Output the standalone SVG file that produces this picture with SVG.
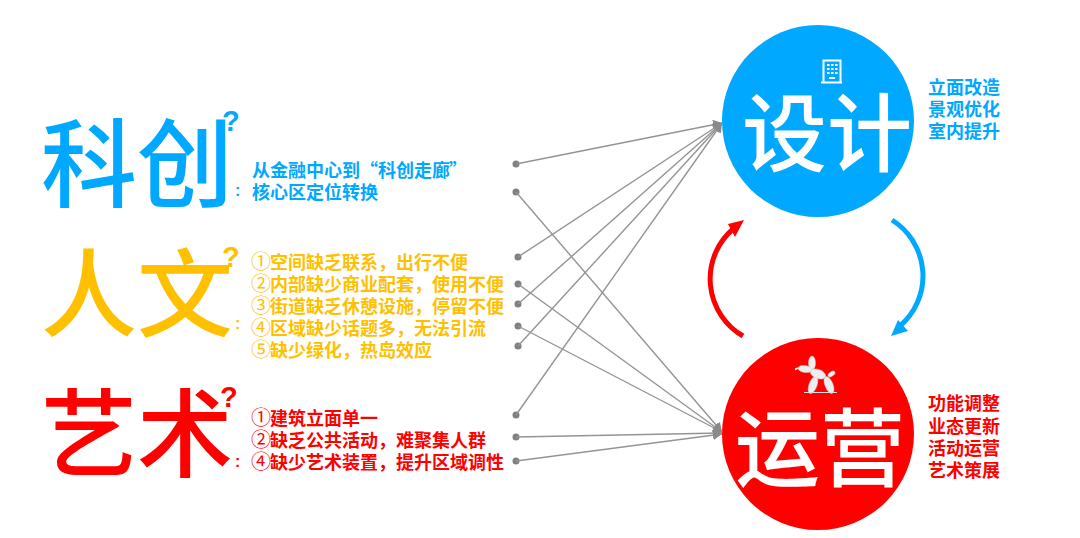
<svg xmlns="http://www.w3.org/2000/svg" width="1080" height="538" viewBox="0 0 1080 538">
<style>
text{font-family:"Noto Sans CJK SC","Noto Sans",sans-serif}
.big{font-size:96px;font-weight:500}
.head{font-size:85px;font-weight:500;fill:#fff}
.t{font-size:18px;font-weight:700}
.n{font-size:20px;font-weight:400}
.q{font-size:29px;font-weight:700;font-family:"Liberation Sans",sans-serif}
.c{font-size:16px;font-weight:700;font-family:"Liberation Sans",sans-serif}
.blue{fill:#00A8FF}.amber{fill:#FFC000}.red{fill:#FF0000}
.link{stroke:#949494;stroke-width:1.4;fill:none;marker-end:url(#a)}
.dot{fill:#808080}
</style>
<defs>
<marker id="a" markerUnits="userSpaceOnUse" markerWidth="9" markerHeight="10" refX="9" refY="5" orient="auto"><path d="M0 0L9 5L0 10z" fill="#8a8a8a"/></marker>
</defs>
<rect width="1080" height="538" fill="#fff"/>
<g id="kechuang">
<text class="big blue" x="41" y="198.500">科创</text>
<text class="q blue" x="222" y="131">?</text>
<text class="c blue" x="235" y="196">:</text>
<text class="t blue" x="252" y="177">从金融中心到“科创走廊<tspan x="449">”</tspan></text>
<text class="t blue" x="252" y="199">核心区定位转换</text>
</g>
<g id="renwen">
<text class="big amber" x="41" y="329">人文</text>
<text class="q amber" x="222" y="267">?</text>
<text class="c amber" x="235" y="329">:</text>
<text class="t amber" x="251" y="269"><tspan class="n">①</tspan><tspan x="270">空间缺乏联系，出行不便</tspan></text>
<text class="t amber" x="251" y="291"><tspan class="n">②</tspan><tspan x="270">内部缺少商业配套，使用不便</tspan></text>
<text class="t amber" x="251" y="313"><tspan class="n">③</tspan><tspan x="270">街道缺乏休憩设施，停留不便</tspan></text>
<text class="t amber" x="251" y="335"><tspan class="n">④</tspan><tspan x="270">区域缺少话题多，无法引流</tspan></text>
<text class="t amber" x="251" y="357"><tspan class="n">⑤</tspan><tspan x="270">缺少绿化，热岛效应</tspan></text>
</g>
<g id="yishu">
<text class="big red" x="41" y="468.500">艺术</text>
<text class="q red" x="220" y="407">?</text>
<text class="c red" x="235" y="467">:</text>
<text class="t red" x="251" y="425"><tspan class="n">①</tspan><tspan x="270">建筑立面单一</tspan></text>
<text class="t red" x="251" y="447"><tspan class="n">②</tspan><tspan x="270">缺乏公共活动，难聚集人群</tspan></text>
<text class="t red" x="251" y="469"><tspan class="n">④</tspan><tspan x="270">缺少艺术装置，提升区域调性</tspan></text>
</g>
<g id="sheji">
<circle cx="818" cy="121" r="96" fill="#00A8FF"/>
<g id="building" fill="none" stroke="#fff" stroke-width="2">
<path d="M823.500 82V60.500H840.500V82M821 82.500H842"/>
<path d="M827 65h2.500M831 65h2.500M835 65h2.500M827 69h2.500M831 69h2.500M835 69h2.500M827 73h2.500M831 73h2.500M835 73h2.500M829 78h6"/>
</g>
<text class="head" x="742" y="165">设计</text>
<text class="t blue" x="928" y="94">立面改造</text>
<text class="t blue" x="928" y="116">景观优化</text>
<text class="t blue" x="928" y="138">室内提升</text>
</g>
<g id="yunying">
<circle cx="818" cy="434" r="96" fill="#FF0000"/>
<g id="dog" fill="#eee" stroke="#ccc" stroke-width=".5">
<ellipse cx="812" cy="363" rx="3.500" ry="7"/>
<path d="M795 369.500L798 368" stroke="#fff" stroke-width="1.500"/>
<ellipse cx="805" cy="369" rx="7" ry="3.500" transform="rotate(8 805 369)"/>
<ellipse cx="813" cy="385" rx="4" ry="9" transform="rotate(20 813 385)"/>
<ellipse cx="829" cy="385" rx="4" ry="9" transform="rotate(-22 829 385)"/>
<ellipse cx="818" cy="374" rx="8" ry="4.500" transform="rotate(20 818 374)"/>
<ellipse cx="831.500" cy="374" rx="4" ry="2.200" transform="rotate(-35 831.500 374)"/>
<path d="M804 392.500H837" stroke="#ddd" stroke-width="1" fill="none"/>
</g>
<text class="head" x="735" y="480">运营</text>
<text class="t red" x="928" y="410">功能调整</text>
<text class="t red" x="928" y="433">业态更新</text>
<text class="t red" x="928" y="455">活动运营</text>
<text class="t red" x="928" y="477">艺术策展</text>
</g>
<g id="cycle">
<path d="M892 220A66 66 0 0 1 900 326" fill="none" stroke="#00A8FF" stroke-width="5"/>
<path d="M891 336L898 320L908 331z" fill="#00A8FF"/>
<path d="M743 336A66 66 0 0 1 733 229" fill="none" stroke="#FF0000" stroke-width="5"/>
<path d="M744 220L735 237L728 224z" fill="#FF0000"/>
</g>
<g id="connectors">
<circle class="dot" cx="516" cy="164" r="3.500"/><path class="link" d="M516 164L722 123"/>
<circle class="dot" cx="518" cy="257" r="3.500"/><path class="link" d="M518 257L722 123"/>
<circle class="dot" cx="518" cy="304" r="3.500"/><path class="link" d="M518 304L722 123"/>
<circle class="dot" cx="518" cy="346" r="3.500"/><path class="link" d="M518 346L722 123"/>
<circle class="dot" cx="516" cy="415" r="3.500"/><path class="link" d="M516 415L722 123"/>
<circle class="dot" cx="516" cy="192" r="3.500"/><path class="link" d="M516 192L722 432"/>
<circle class="dot" cx="518" cy="284" r="3.500"/><path class="link" d="M518 284L722 432"/>
<circle class="dot" cx="518" cy="326" r="3.500"/><path class="link" d="M518 326L722 432"/>
<circle class="dot" cx="516" cy="437" r="3.500"/><path class="link" d="M516 437L722 433"/>
<circle class="dot" cx="516" cy="461" r="3.500"/><path class="link" d="M516 461L722 434"/>
</g>
</svg>
